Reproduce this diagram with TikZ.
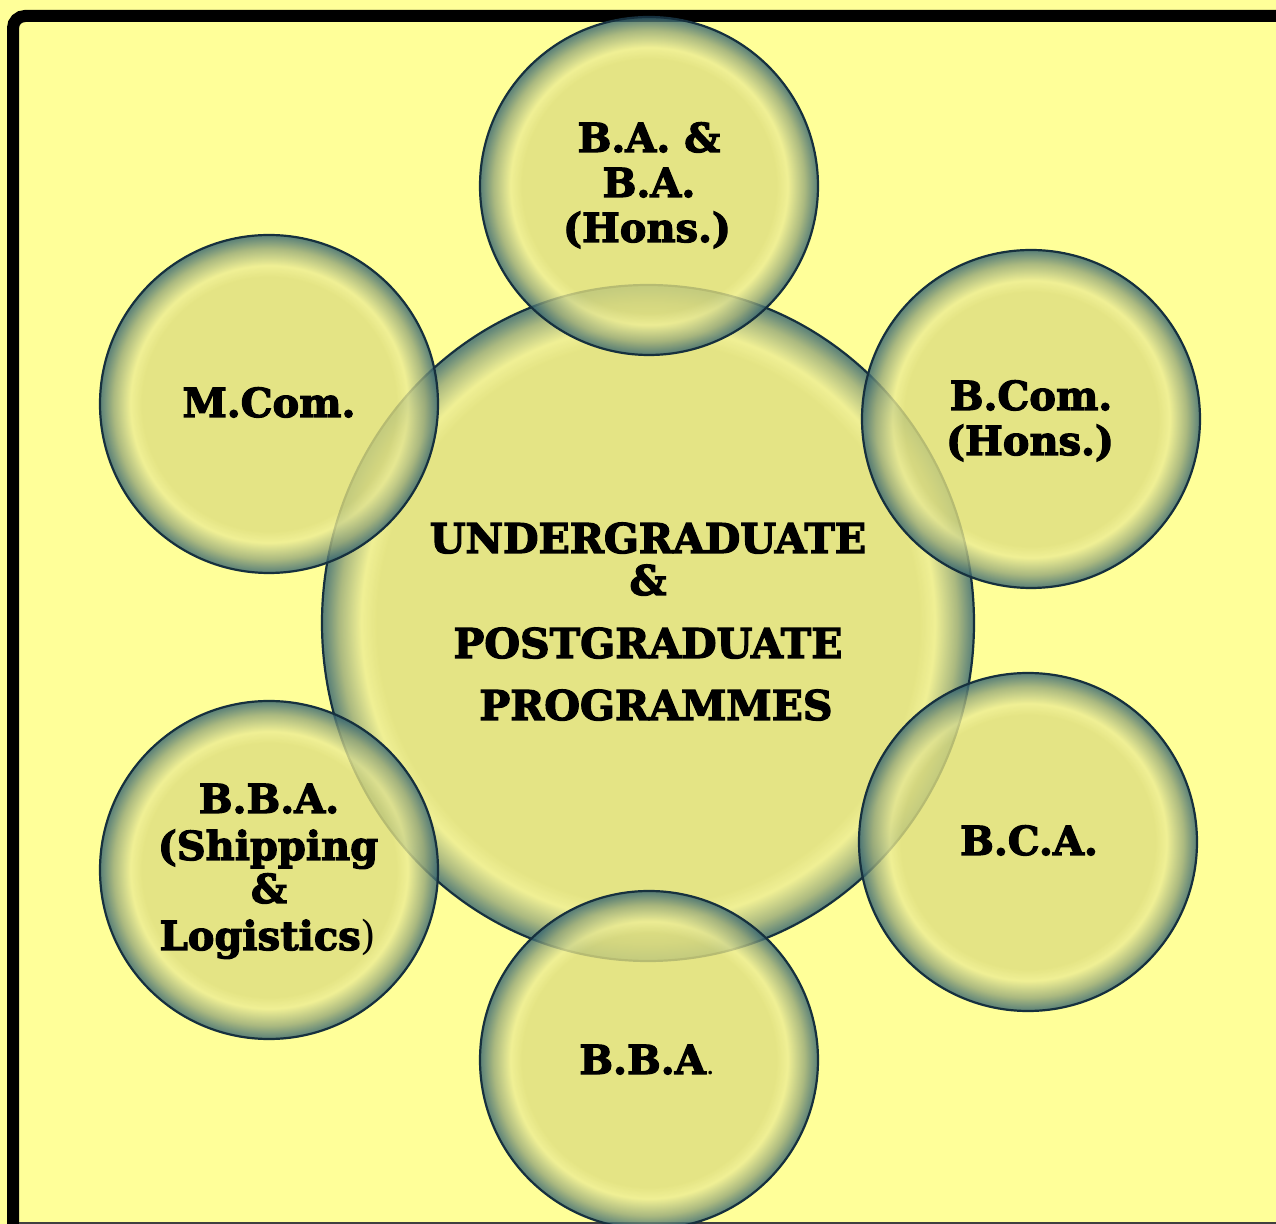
\documentclass[tikz,border=0pt]{standalone}
\usepackage{fontspec}
\setmainfont{DejaVu Serif}[BoldFeatures={FakeBold=3}]
\usetikzlibrary{shapes.geometric}
\definecolor{bg}{RGB}{255,255,153}
\definecolor{bubin}{RGB}{222,222,128}
\definecolor{bubhi}{RGB}{236,236,148}
\definecolor{bubmid}{RGB}{150,168,122}
\definecolor{bubedge}{RGB}{58,104,114}
\definecolor{bubline}{RGB}{22,48,62}
\pgfdeclareradialshading{bubsmall}{\pgfpoint{0bp}{0bp}}{color(0bp)=(bubin); color(18.8bp)=(bubin); color(20.5bp)=(bubhi); color(23bp)=(bubmid); color(24.8bp)=(bubedge); color(25bp)=(bubedge); color(50bp)=(bubedge)}
\pgfdeclareradialshading{bubbig}{\pgfpoint{0bp}{0bp}}{color(0bp)=(bubin); color(20.8bp)=(bubin); color(22bp)=(bubhi); color(23.7bp)=(bubmid); color(24.85bp)=(bubedge); color(25bp)=(bubedge); color(50bp)=(bubedge)}
\tikzset{
  bubble/.style={circle, minimum size=169pt, inner sep=0pt, shading=bubsmall, fill opacity=0.8, draw=bubline, draw opacity=1, line width=1.1pt},
  bigbubble/.style={ellipse, minimum width=326pt, minimum height=338pt, inner sep=0pt, shading=bubbig, fill opacity=0.8, draw=bubline, draw opacity=1, line width=1.1pt},
  lbl/.style={font=\fontsize{20}{24}\selectfont\bfseries, anchor=base, inner sep=0pt, text=black},
  cenlbl/.style={font=\fontsize{20.5}{25}\selectfont\bfseries, anchor=base, inner sep=0pt, text=black},
}
\begin{document}
\begin{tikzpicture}[x=0.5pt,y=-0.5pt]
\useasboundingbox (0,0) rectangle (1276,1224);
\clip (0,0) rectangle (1276,1224);
\fill[bg] (0,0) rectangle (1276,1224);
% frame
\draw[line width=6pt, rounded corners=6pt] (13,1300) -- (13,16) -- (1320,16);
\draw[line width=0.8pt, black!75] (19,1223) -- (1276,1223);
% circles
\node[bigbubble] (cen) at (648,623) {};
\node[bubble] (ba)   at (649,186) {};
\node[bubble] (mcom) at (269,404) {};
\node[bubble] (bcom) at (1031,419) {};
\node[bubble] (bca)  at (1028,842) {};
\node[bubble] (bba)  at (649,1060) {};
\node[bubble] (bbas) at (269,870) {};
% centre text
\node[cenlbl] (cen1) at (648,553) {UNDERGRADUATE};
\node[cenlbl] (cen2) at (648,595) {\&};
\node[cenlbl] (cen3) at (648,658) {POSTGRADUATE};
\node[cenlbl] (cen4) at (656,720) {PROGRAMMES};
% labels
\node[lbl] (ba1) at (649,152) {B.A. \&};
\node[lbl] (ba2) at (649,197) {B.A.};
\node[lbl] (ba3) at (647,242) {(Hons.)};
\node[lbl] (mcom1) at (269,417) {M.Com.};
\node[lbl] (bcom1) at (1031,410) {B.Com.};
\node[lbl] (bcom2) at (1030,455) {(Hons.)};
\node[lbl] (bca1) at (1029,855) {B.C.A.};
\node[lbl] (bba1) at (647,1074) {B.B.A{\mdseries\fontsize{14}{16}\selectfont .}};
\node[lbl] (bbas1) at (269,813) {B.B.A.};
\node[lbl] (bbas2) at (268,860) {(Shipping};
\node[lbl] (bbas3) at (269,903) {\&};
\node[lbl] (bbas4) at (268,950) {Logistics{\mdseries )}};
\end{tikzpicture}
\end{document}
